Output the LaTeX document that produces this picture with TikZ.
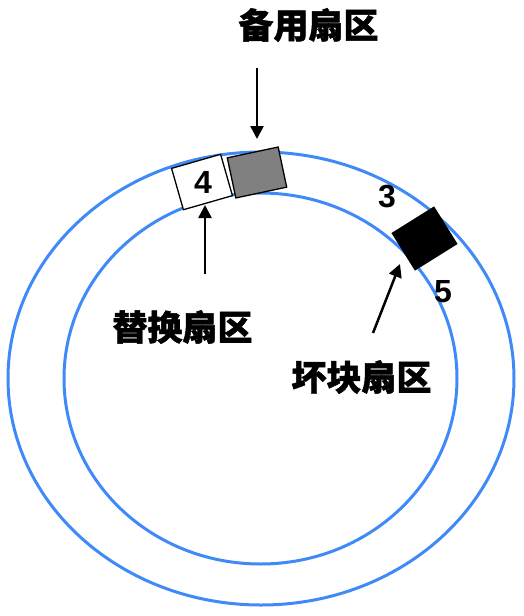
\documentclass[tikz,border=0pt]{standalone}
\usepackage{fontspec}
\setmainfont{Liberation Sans}
\newfontfamily\cjk{Noto Sans CJK SC}[BoldFeatures={FakeBold=1.3}]
\usetikzlibrary{arrows.meta}
\definecolor{ringblue}{RGB}{64,138,248}
\definecolor{sectorgray}{RGB}{128,128,128}
\tikzset{
  ring/.style={draw=ringblue, line width=3pt},
  sector/.style={draw=black, line width=1.3pt, inner sep=0pt, outer sep=0pt},
  pointer/.style={draw=black, line width=2.5pt, -{Triangle[length=13pt,width=13pt]}},
  cjklabel/.style={font=\cjk\bfseries\fontsize{35}{35}\selectfont, inner sep=0pt},
  numlabel/.style={font=\bfseries\fontsize{32}{32}\selectfont, inner sep=0pt}
}
\begin{document}
\begin{tikzpicture}[x=1pt,y=-1pt]
\useasboundingbox (0,0) rectangle (523,616);
% rings
\draw[ring] (261,378.5) ellipse [x radius=253, y radius=226.5];
\draw[ring] (260.5,378.5) ellipse [x radius=196.5, y radius=185.5];
% sectors
\node[sector, fill=sectorgray, minimum width=52pt, minimum height=41pt, rotate=12] (spare) at (257,172.5) {};
\node[sector, fill=white, minimum width=51pt, minimum height=43pt, rotate=16] (repl) at (202,182) {};
\node[numlabel] (n4) at (203,182.5) {4};
\node[sector, fill=black, minimum width=49pt, minimum height=43pt, rotate=32] (bad) at (424.5,238.5) {};
\node[numlabel] (n3) at (387,196.5) {3};
\node[numlabel] (n5) at (443,291.5) {5};
% labels
\node[cjklabel] (lspare) at (308.5,25) {备用扇区};
\node[cjklabel] (lrepl) at (182.5,327) {替换扇区};
\node[cjklabel] (lbad) at (361.5,377) {坏块扇区};
% arrows
\coordinate (a1s) at (257,68);
\coordinate (a1e) at (257,139);
\coordinate (a2s) at (205,274);
\coordinate (a2e) at (205,205);
\coordinate (a3s) at (373,333);
\coordinate (a3e) at (400,264);
\draw[pointer] (a1s) -- (a1e);
\draw[pointer] (a2s) -- (a2e);
\draw[pointer] (a3s) -- (a3e);
\end{tikzpicture}
\end{document}
